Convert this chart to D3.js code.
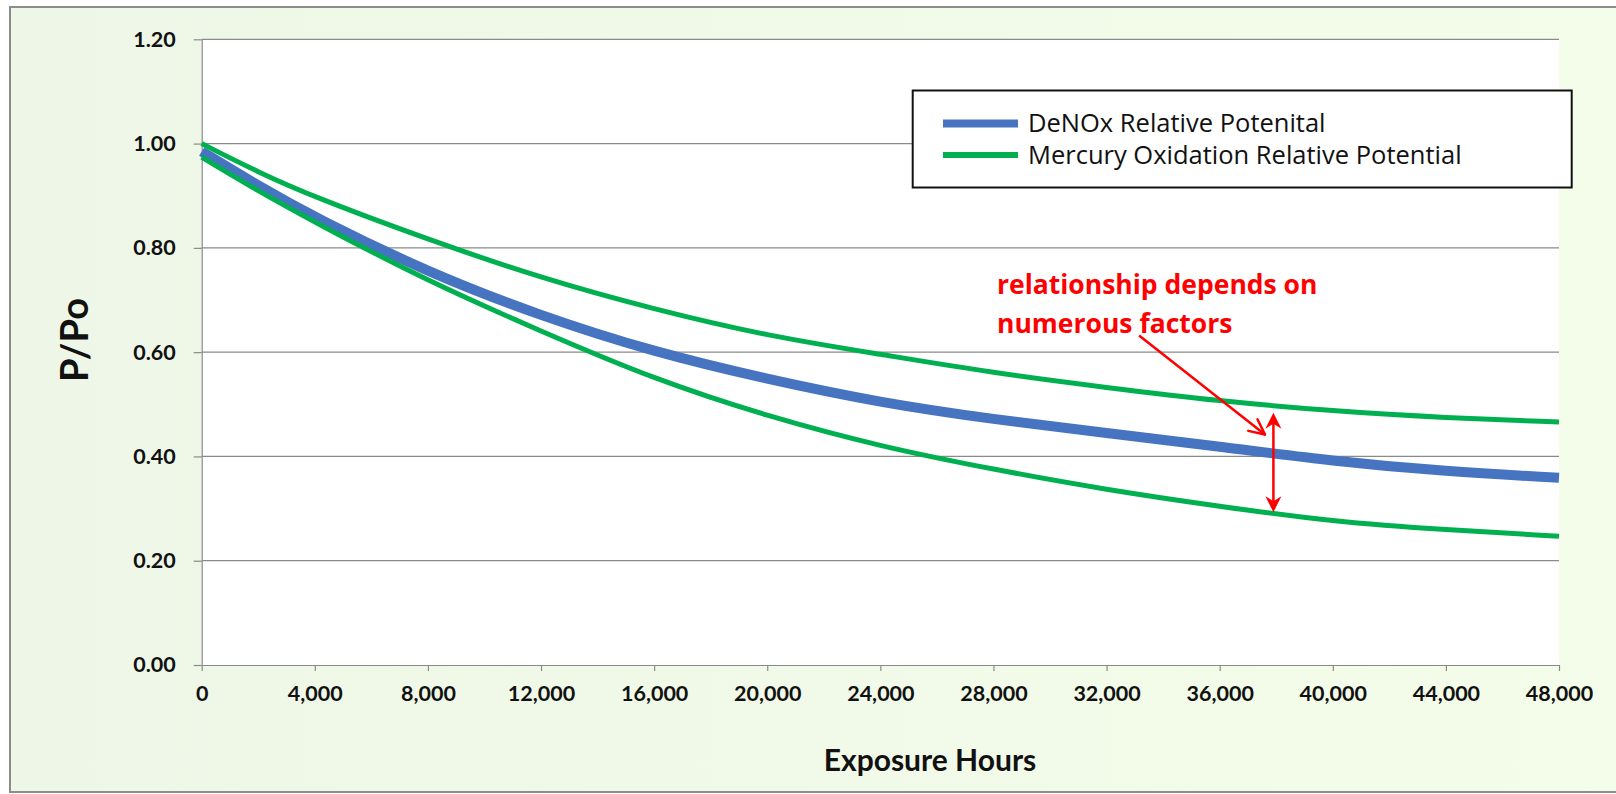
<!DOCTYPE html>
<html><head><meta charset="utf-8">
<script src="https://cdn.jsdelivr.net/npm/d3@7"></script>
<style>html,body{margin:0;padding:0;background:#fff;overflow:hidden}</style>
</head><body>
<svg id="chart" width="1616" height="794"></svg>
<script>
// ---- data ----
const hours      = [0, 2000, 4000, 8000, 12000, 16000, 20000, 24000, 28000, 32000, 36000, 40000, 44000, 48000];
const denox      = [0.985, 0.919, 0.858, 0.753, 0.669, 0.600, 0.548, 0.503, 0.471, 0.445, 0.419, 0.391, 0.371, 0.359];
const mercuryHigh= [1.000, 0.945, 0.897, 0.816, 0.742, 0.682, 0.631, 0.596, 0.560, 0.532, 0.506, 0.487, 0.474, 0.466];
const mercuryLow = [0.974, 0.909, 0.849, 0.736, 0.640, 0.548, 0.477, 0.419, 0.375, 0.336, 0.304, 0.275, 0.259, 0.247];
const xTicks = [0,4000,8000,12000,16000,20000,24000,28000,32000,36000,40000,44000,48000];
const yTicks = [0,0.2,0.4,0.6,0.8,1.0,1.2];
const seriesNames = ["DeNOx Relative Potenital", "Mercury Oxidation Relative Potential"];
const annotationLines = ["relationship depends on", "numerous factors"];
// annotation anchors in data units
const pointerArrow = {from:[33150, 0.632], to:[37600, 0.442]};
const rangeArrow   = {x:37900, top:0.484, bottom:0.293};

const svg = d3.select("#chart");
const W = 1616, H = 794;
const FONT = "Lato, 'Open Sans', sans-serif";

// background
const defs = svg.append("defs");
const g1 = defs.append("linearGradient").attr("id","bg").attr("x1","0").attr("x2","1").attr("y1","0").attr("y2","0");
g1.append("stop").attr("offset","0").attr("stop-color","#eef7e7");
g1.append("stop").attr("offset","1").attr("stop-color","#f4fde9");
svg.append("rect").attr("width",W).attr("height",H).attr("fill","#ffffff");
svg.append("rect").attr("x",10).attr("y",7).attr("width",W+10).attr("height",785)
   .attr("fill","url(#bg)").attr("stroke","#8c8c8c").attr("stroke-width",2);

const x = d3.scaleLinear().domain([0,48000]).range([201.7,1559]);
const y = d3.scaleLinear().domain([0,1.2]).range([665,39.3]);

// plot area
svg.append("rect").attr("x",x(0)).attr("y",y(1.2)).attr("width",x(48000)-x(0)).attr("height",y(0)-y(1.2)).attr("fill","#ffffff");

// gridlines
svg.append("g").selectAll("line").data(yTicks.filter(d=>d>0)).join("line")
  .attr("x1",x(0)).attr("x2",x(48000)).attr("y1",d=>y(d)).attr("y2",d=>y(d))
  .attr("stroke","#8a8a8a").attr("stroke-width",1.2);

// axes
const yAxis = svg.append("g").attr("transform",`translate(${x(0)},0)`)
  .call(d3.axisLeft(y).tickValues(yTicks).tickSize(8).tickSizeOuter(0).tickPadding(18).tickFormat(d3.format(".2f")));
const xAxis = svg.append("g").attr("transform",`translate(0,${y(0)})`)
  .call(d3.axisBottom(x).tickValues(xTicks).tickSize(6).tickSizeOuter(0).tickPadding(10).tickFormat(d3.format(",")));
[yAxis,xAxis].forEach(a=>{
  a.select(".domain").attr("stroke","#8a8a8a").attr("stroke-width",1.2);
  a.selectAll(".tick line").attr("stroke","#8a8a8a").attr("stroke-width",1.2);
  a.selectAll("text").attr("font-family",FONT).attr("font-weight","bold").attr("font-size",21.5).attr("fill","#111");
});
xAxis.selectAll("text").attr("dy","0.95em");

// lines
const line = d3.line().x(d=>x(d[0])).y(d=>y(d[1])).curve(d3.curveBasis);
svg.append("path").datum(hours.map((h,i)=>[h,denox[i]])).attr("d",line)
  .attr("fill","none").attr("stroke","#4674c1").attr("stroke-width",10);
[mercuryHigh, mercuryLow].forEach(s=>{
  svg.append("path").datum(hours.map((h,i)=>[h,s[i]])).attr("d",line)
    .attr("fill","none").attr("stroke","#00b050").attr("stroke-width",5);
});

// axis titles
svg.append("text").attr("transform","translate(88,340) rotate(-90)").attr("text-anchor","middle")
  .attr("font-family",FONT).attr("font-weight","bold").attr("font-size",38).attr("fill","#111").text("P/Po");
svg.append("text").attr("x",930).attr("y",771).attr("text-anchor","middle")
  .attr("font-family",FONT).attr("font-weight","bold").attr("font-size",30).attr("fill","#111").text("Exposure Hours");

// legend
const lg = svg.append("g");
lg.append("rect").attr("x",912.7).attr("y",90.5).attr("width",659).attr("height",97)
  .attr("fill","#ffffff").attr("stroke","#111").attr("stroke-width",2);
const legendItems = [{name:seriesNames[0], color:"#4674c1", w:8, y:123.5},{name:seriesNames[1], color:"#00b050", w:6, y:155}];
legendItems.forEach(it=>{
  lg.append("line").attr("x1",943).attr("x2",1018).attr("y1",it.y).attr("y2",it.y).attr("stroke",it.color).attr("stroke-width",it.w);
  lg.append("text").attr("x",1028).attr("y",it.y).attr("dy","0.35em").attr("font-family","'Open Sans', sans-serif")
    .attr("font-size",25.5).attr("fill","#111").text(it.name);
});

// annotation
const ann = svg.append("g");
annotationLines.forEach((t,i)=>{
  ann.append("text").attr("x",997).attr("y",294+i*39).attr("font-family","'Open Sans', sans-serif").attr("font-weight","bold")
    .attr("font-size",26.5).attr("fill","#ff0000").text(t);
});
// pointer arrow with open head
const p0=[x(pointerArrow.from[0]),y(pointerArrow.from[1])], p1=[x(pointerArrow.to[0]),y(pointerArrow.to[1])];
ann.append("line").attr("x1",p0[0]).attr("y1",p0[1]).attr("x2",p1[0]).attr("y2",p1[1]).attr("stroke","#ff0000").attr("stroke-width",2.5);
const ang = Math.atan2(p1[1]-p0[1], p1[0]-p0[0]);
[0.45,-0.45].forEach(da=>{
  ann.append("line").attr("x1",p1[0]).attr("y1",p1[1])
    .attr("x2",p1[0]-17*Math.cos(ang+da)).attr("y2",p1[1]-17*Math.sin(ang+da))
    .attr("stroke","#ff0000").attr("stroke-width",2.5).attr("stroke-linecap","round");
});
// double arrow
const rx = x(rangeArrow.x), rt = y(rangeArrow.top), rb = y(rangeArrow.bottom);
ann.append("line").attr("x1",rx).attr("x2",rx).attr("y1",rt+8).attr("y2",rb-8).attr("stroke","#ff0000").attr("stroke-width",2.5);
ann.append("path").attr("d",`M${rx},${rt} L${rx+8},${rt+16} L${rx},${rt+11} L${rx-8},${rt+16} Z`).attr("fill","#ff0000");
ann.append("path").attr("d",`M${rx},${rb} L${rx+8},${rb-16} L${rx},${rb-11} L${rx-8},${rb-16} Z`).attr("fill","#ff0000");
</script>
</body></html>
